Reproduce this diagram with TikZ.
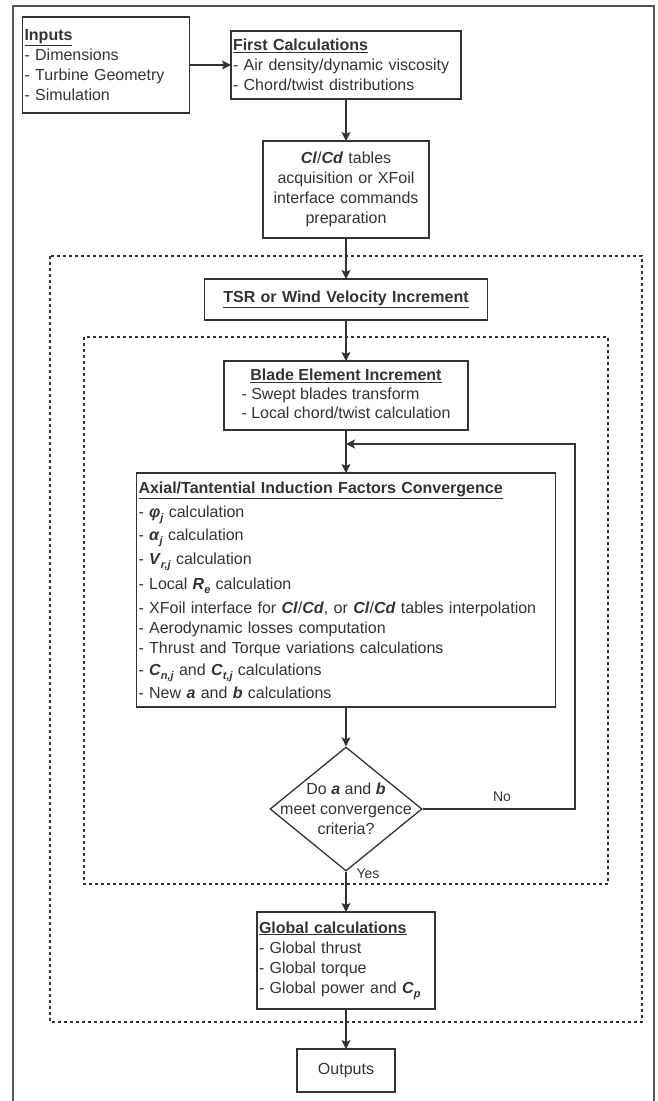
\documentclass[tikz,border=0pt]{standalone}
\usepackage{fontspec}
\setmainfont{Liberation Sans}
\usetikzlibrary{shapes.geometric,arrows.meta,calc}
\definecolor{ink}{HTML}{333333}
\definecolor{framec}{HTML}{555555}
\newcommand{\bi}[1]{\textbf{\textit{#1}}}
\newcommand{\lsub}[1]{\raisebox{-0.5ex}{\fontsize{11}{11}\selectfont\bfseries\itshape #1}}
\newcommand{\ttl}[1]{\underline{\textbf{#1}}}
\begin{document}
\begin{tikzpicture}[x=1pt,y=-1pt,
  font=\fontsize{16}{20}\selectfont,
  every node/.style={text=ink},
  box/.style={draw=ink, line width=1.3pt, inner sep=2pt, outer sep=0pt},
  arr/.style={draw=ink, line width=1.3pt, -{Stealth[length=9pt,width=9pt,inset=2pt]}},
  grp/.style={draw=ink, line width=1.4pt, dash pattern=on 3pt off 3pt},
  lbl/.style={font=\fontsize{14}{16}\selectfont, inner sep=0pt}]
\useasboundingbox (0,0) rectangle (657,1101);
% outer frame
\draw[draw=framec, line width=1.6pt] (13,1101) -- (13,6) -- (654,6) -- (654,1101);
% group frames
\draw[grp] (50,256) rectangle (642,1022);
\draw[grp] (84,337) rectangle (608,884);
% boxes
\node[box, minimum width=167, minimum height=96, text width=163, align=left] (inputs) at (106,65)
  {\ttl{Inputs}\\- Dimensions\\- Turbine Geometry\\- Simulation};
\node[box, minimum width=230, minimum height=68, text width=226, align=left] (first) at (346,65)
  {\ttl{First Calculations}\\- Air density/dynamic viscosity\\- Chord/twist distributions};
\node[box, minimum width=166, minimum height=97, text width=162, align=center] (clcd) at (346,189.5)
  {\bi{Cl}/\bi{Cd} tables\\acquisition or XFoil\\interface commands\\preparation};
\node[box, minimum width=283, minimum height=41, text width=279, align=center] (tsr) at (346,299.5)
  {\ttl{TSR or Wind Velocity Increment}};
\node[box, minimum width=244, minimum height=69, inner sep=0pt] (blade) at (346,395.5)
  {\begin{tabular}{@{}c@{}}\ttl{Blade Element Increment}\\[-1pt]
   \begin{tabular}{@{}l@{}}- Swept blades transform\\[-1pt]- Local chord/twist calculation\end{tabular}\end{tabular}};
\node[box, minimum width=419, minimum height=234, text width=415, align=left] (axial) at (346,590)
  {\ttl{Axial/Tantential Induction Factors Convergence}\\[4pt]
   - \bi{φ}\lsub{j} calculation\\[3pt]
   - \bi{α}\lsub{j} calculation\\[4pt]
   - \bi{V}\lsub{r,j} calculation\\[5pt]
   - Local \bi{R}\lsub{e} calculation\\[4pt]
   - XFoil interface for \bi{Cl}/\bi{Cd}, or \bi{Cl}/\bi{Cd} tables interpolation\\
   - Aerodynamic losses computation\\
   - Thrust and Torque variations calculations\\[2pt]
   - \bi{C}\lsub{n,j} and \bi{C}\lsub{t,j} calculations\\[3pt]
   - New \bi{a} and \bi{b} calculations};
\node[draw=ink, line width=1.3pt, diamond, minimum width=152, minimum height=124, inner sep=0pt] (dec) at (346,809) {};
\node[align=center, inner sep=0pt] (dectext) at (dec.center) {Do \bi{a} and \bi{b}\\meet convergence\\criteria?};
\node[box, minimum width=178, minimum height=97, text width=174, align=left] (global) at (346,960.5)
  {\ttl{Global calculations}\\- Global thrust\\- Global torque\\- Global power and \bi{C}\lsub{p}};
\node[box, minimum width=98, minimum height=43, align=center] (outputs) at (346,1070.5) {Outputs};
% connectors
\draw[arr] (inputs.east) -- (first.west);
\draw[arr] (first.south) -- (clcd.north);
\draw[arr] (clcd.south) -- (tsr.north);
\draw[arr] (tsr.south) -- (blade.north);
\draw[arr] (blade.south) -- (axial.north);
\draw[arr] (axial.south) -- (dec.north);
\coordinate (jn) at (346,444);
\coordinate (fbr) at (575,444);
\draw[arr] (dec.east) -| (fbr) -- (jn);
\node[lbl] (no) at (502,797) {No};
\draw[arr] (dec.south) -- (global.north);
\node[lbl] (yes) at (368,874) {Yes};
\draw[arr] (global.south) -- (outputs.north);
\end{tikzpicture}
\end{document}
